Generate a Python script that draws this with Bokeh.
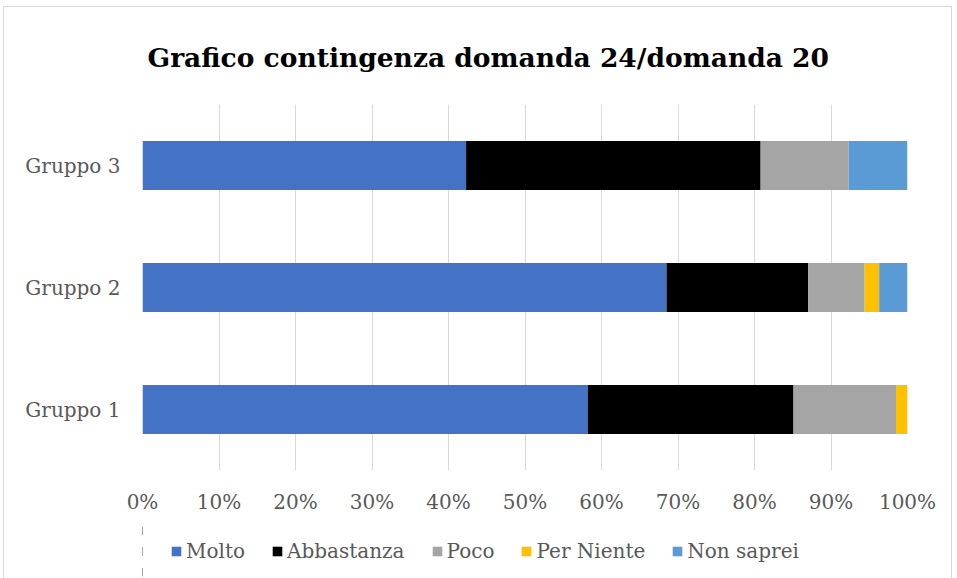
from bokeh.plotting import figure
from bokeh.layouts import column
from bokeh.models import (FactorRange, Range1d, FixedTicker, NumeralTickFormatter,
                          Legend, LegendItem, ColumnDataSource)
from bokeh.embed import file_html
from bokeh.resources import INLINE

# ---- data (percent of each group) ----
groups = ["Gruppo 1", "Gruppo 2", "Gruppo 3"]
series = ["Molto", "Abbastanza", "Poco", "Per Niente", "Non saprei"]
molto = [58.2, 68.5, 42.3]
abbastanza = [26.9, 18.5, 38.5]
poco = [13.4, 7.4, 11.5]
per_niente = [1.5, 1.9, 0.0]
non_saprei = [0.0, 3.7, 7.7]
colors = ["#4472C4", "#000000", "#A5A5A5", "#FFC000", "#5B9BD5"]
ticks = [0, 0.1, 0.2, 0.3, 0.4, 0.5, 0.6, 0.7, 0.8, 0.9, 1.0]
title_text = "Grafico contingenza domanda 24/domanda 20"

values = [molto, abbastanza, poco, per_niente, non_saprei]
data = {"group": groups}
for name, vals in zip(series, values):
    data[name] = [v / 100.0 for v in vals]
source = ColumnDataSource(data)

FONT = "DejaVu Serif"
GRAY = "#595959"

p = figure(output_backend="svg", toolbar_location=None,
           y_range=FactorRange(*groups), x_range=Range1d(0, 1),
           frame_width=765, frame_height=366,
           min_border_left=138, min_border_right=44, min_border_top=87,
           min_border_bottom=50, title=title_text)

p.title.text_font = FONT
p.title.text_font_size = "26.5px"
p.title.text_font_style = "bold"
p.title.text_color = "#000000"
p.title.align = "left"
p.title.offset = 5
p.title.standoff = 64

renderers = p.hbar_stack(series, y="group", height=0.4, color=colors,
                         line_color=None, source=source)

p.outline_line_color = None
p.ygrid.grid_line_color = None
p.xgrid.grid_line_color = "#D9D9D9"
p.xgrid.grid_line_width = 1
p.xaxis.ticker = FixedTicker(ticks=ticks)
p.xaxis.formatter = NumeralTickFormatter(format="0%")

for ax in (p.xaxis, p.yaxis):
    ax.axis_line_color = None
    ax.major_tick_line_color = None
    ax.minor_tick_line_color = None
    ax.major_tick_out = 0
    ax.major_tick_in = 0
    ax.major_label_text_font = FONT
    ax.major_label_text_font_size = "20px"
    ax.major_label_text_color = GRAY
p.xaxis.major_label_standoff = 19
p.yaxis.major_label_standoff = 22

# ---- legend strip below the chart (same series; bars fall outside its view) ----
lf = figure(width=947, height=62, output_backend="svg", toolbar_location=None,
            x_range=Range1d(2, 3), y_range=FactorRange(*groups),
            x_axis_location=None, y_axis_location=None,
            min_border_left=0, min_border_right=0, min_border_top=0, min_border_bottom=0)
lf.outline_line_color = None
lf.xgrid.grid_line_color = None
lf.ygrid.grid_line_color = None
swatches = lf.hbar_stack(series, y="group", height=0.4, color=colors,
                         line_color=None, source=source)

legend = Legend(items=[LegendItem(label=n, renderers=[r]) for n, r in zip(series, swatches)],
                orientation="horizontal", location=(28, 19))
legend.label_text_font = FONT
legend.label_text_font_size = "20px"
legend.label_text_color = GRAY
legend.glyph_width = 12
legend.glyph_height = 12
legend.label_standoff = 4
legend.spacing = 26
legend.padding = 0
legend.margin = 0
legend.border_line_color = None
legend.background_fill_alpha = 0
lf.add_layout(legend, "center")

layout = column(p, lf, spacing=0)
layout.styles = {"border": "1px solid #D9D9D9", "margin-left": "3px", "margin-top": "6px"}

open("out.html", "w").write(file_html(layout, INLINE))
